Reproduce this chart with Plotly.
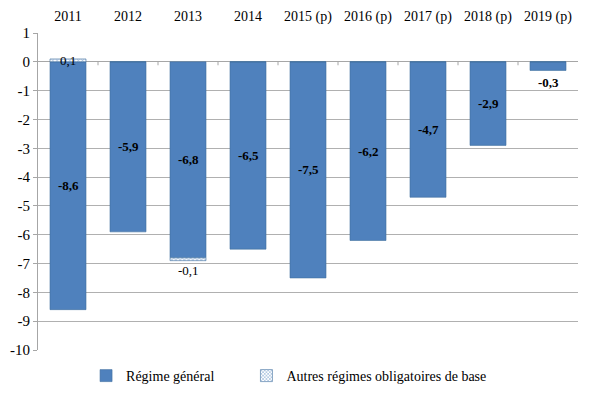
import plotly.graph_objects as go

categories = ["2011", "2012", "2013", "2014", "2015 (p)", "2016 (p)", "2017 (p)", "2018 (p)", "2019 (p)"]
regime_general = [-8.6, -5.9, -6.8, -6.5, -7.5, -6.2, -4.7, -2.9, -0.3]
autres_regimes = [0.1, 0.0, -0.1, 0.0, 0.0, 0.0, 0.0, 0.0, 0.0]
y_ticks = list(range(-10, 2))

FONT = "Liberation Serif"
BLUE = "#4F81BD"

def fr(v):
    return f"{v:.1f}".replace(".", ",")

fig = go.Figure()
fig.add_trace(go.Bar(
    x=categories, y=regime_general, name="Régime général", legend="legend",
    marker=dict(color=BLUE, line=dict(color="#41709f", width=0.6)),
))
fig.add_trace(go.Bar(
    x=categories, y=autres_regimes, name="Autres régimes obligatoires de base", legend="legend2",
    marker=dict(color="#ffffff", line=dict(color="#41709f", width=0.6),
                pattern=dict(shape="x", fgcolor=BLUE, bgcolor="#ffffff", size=3, solidity=0.5)),
))

annotations = []
for i, v in enumerate(regime_general):
    if abs(v) >= 1:
        annotations.append(dict(x=i, y=v / 2, text="<b>" + fr(v) + "</b>", showarrow=False,
                                font=dict(family=FONT, size=13, color="black")))
    else:
        annotations.append(dict(x=i, y=v, yshift=-12, text="<b>" + fr(v) + "</b>", showarrow=False,
                                font=dict(family=FONT, size=13, color="black")))
for i, (g, a) in enumerate(zip(regime_general, autres_regimes)):
    if a > 0:
        annotations.append(dict(x=i, y=0, yshift=1, text=fr(a), showarrow=False,
                                font=dict(family=FONT, size=13, color="black")))
    elif a < 0:
        annotations.append(dict(x=i, y=g + a, yshift=-10, text=fr(a), showarrow=False,
                                font=dict(family=FONT, size=13, color="black")))

shapes = []
for i in range(len(categories) - 1):
    shapes.append(dict(type="line", xref="x", yref="y", x0=i + 0.5, x1=i + 0.5, y0=0, y1=-0.12,
                       line=dict(color="#a6a6a6", width=1), layer="above"))

legend_style = dict(orientation="h", y=-0.082, yanchor="middle", xanchor="left",
                    font=dict(family=FONT, size=14), itemwidth=30)

fig.update_layout(
    barmode="relative",
    bargap=0.4,
    width=594, height=398,
    margin=dict(l=30, r=24, t=25, b=56, autoexpand=False),
    paper_bgcolor="white", plot_bgcolor="white",
    font=dict(family=FONT, size=13, color="black"),
    showlegend=True,
    legend=dict(x=0.089, **legend_style),
    legend2=dict(x=0.386, **legend_style),
    annotations=annotations,
    shapes=shapes,
    xaxis=dict(type="category", range=[-0.5, len(categories) - 0.5], side="top",
               showline=False, showgrid=False, ticks="", automargin=False,
               tickfont=dict(family=FONT, size=14), ticklabelstandoff=8),
    yaxis=dict(range=[-10, 1], tickvals=y_ticks, ticktext=[str(t) for t in y_ticks],
               automargin=False,
               showgrid=True, gridcolor="#b0b0b0", gridwidth=1,
               zeroline=True, zerolinecolor="#a6a6a6", zerolinewidth=1,
               showline=True, linecolor="#a6a6a6", linewidth=1,
               ticks="outside", ticklen=4, tickcolor="#a6a6a6",
               tickfont=dict(family=FONT, size=15)),
)

fig.write_html("out.html")
